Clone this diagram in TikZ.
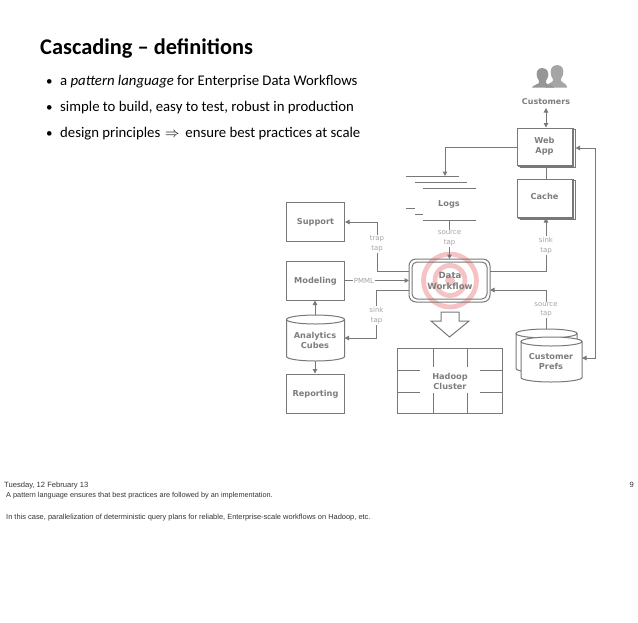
\documentclass[tikz,border=0pt]{standalone}
\usepackage{fontspec}
\setmainfont{Carlito}
\newfontfamily\diagfont{DejaVu Sans}
\newfontfamily\footfont{Liberation Sans}
\usetikzlibrary{arrows.meta}
\definecolor{dgray}{RGB}{120,120,120}
\definecolor{tgray}{RGB}{125,125,125}
\definecolor{lgray}{RGB}{165,165,165}
\definecolor{ringpink}{RGB}{245,195,195}
\tikzset{
  box/.style={draw=dgray,line width=1pt,fill=white,minimum width=58pt,minimum height=39pt,inner sep=0pt,text=tgray,font=\diagfont\bfseries\fontsize{8.2}{10.4}\selectfont,align=center},
  lbl/.style={text=tgray,font=\diagfont\bfseries\fontsize{8.2}{10.4}\selectfont,align=center,inner sep=0pt},
  tap/.style={text=lgray,fill=white,font=\diagfont\fontsize{7}{9.5}\selectfont,align=center,inner sep=1pt},
  con/.style={draw=dgray,line width=1pt},
  arr/.style={con,-{Triangle[length=4.5pt,width=4.5pt]}},
  darr/.style={con,{Triangle[length=4.5pt,width=4.5pt]}-{Triangle[length=4.5pt,width=4.5pt]}},
  bullettext/.style={anchor=base west,inner sep=0pt,font=\fontsize{14.75}{18}\selectfont},
  foot/.style={anchor=base west,inner sep=0pt,text=black!80}
}
\newcommand{\cyl}[4]{% x1,x2,ytop,ybottom
  \fill[white] (#1,#3+4.5) -- (#1,#4-4.5) arc[start angle=180,end angle=0,x radius={(#2-#1)/2},y radius=4.5] -- (#2,#3+4.5) arc[start angle=0,end angle=-180,x radius={(#2-#1)/2},y radius=4.5] -- cycle;
  \draw[dgray,line width=1pt] (#1,#3+4.5) -- (#1,#4-4.5) arc[start angle=180,end angle=0,x radius={(#2-#1)/2},y radius=4.5] -- (#2,#3+4.5);
  \draw[dgray,line width=1pt] ({(#1+#2)/2},#3+4.5) ellipse[x radius={(#2-#1)/2},y radius=4.5];
}
\begin{document}
\begin{tikzpicture}[x=1pt,y=-1pt]
\useasboundingbox (0,0) rectangle (638,622);
% heading
\node[anchor=base west,inner sep=0pt,font=\bfseries\fontsize{22.4}{26}\selectfont] (title) at (40,54) {Cascading – definitions};
\foreach \n/\y in {a/85,b/111,c/137}{\node[anchor=base west,inner sep=0pt,font=\fontsize{13}{16}\selectfont] (bul\n) at (46,\y) {•};}
\node[bullettext] (l1) at (60,85) {a \textit{pattern language} for Enterprise Data Workflows};
\node[bullettext] (l2) at (60,111) {simple to build, easy to test, robust in production};
\node[bullettext] (l3) at (60,137) {design principles\kern1.5pt{} $\Rightarrow$\kern2.5pt{} ensure best practices at scale};
% target
\draw[ringpink,line width=4.8pt] (450,280.5) circle[radius=26.5];
\draw[ringpink,line width=4.8pt] (450,280.5) circle[radius=15];
\fill[ringpink] (450,280.5) circle[radius=5];
% workflow
\draw[dgray,line width=1pt,rounded corners=7pt] (409,259) rectangle (490,302);
\draw[dgray,line width=1pt,rounded corners=5pt] (412,262) rectangle (487,299);
\node[lbl,font=\diagfont\bfseries\fontsize{8.6}{10.4}\selectfont] (wf) at (450,281) {Data\\Workflow};
\coordinate (wfN) at (449.5,259);
\coordinate (wfTL) at (409,271);
\coordinate (wfML) at (409,280.5);
\coordinate (wfBL) at (409,290);
\coordinate (wfTR) at (490,271);
\coordinate (wfBR) at (490,290);
% left column
\node[box] (support) at (315.5,221.5) {\raisebox{-3.4pt}[0pt][0pt]{Support}};
\node[box] (modeling) at (315.5,280.5) {\raisebox{-3.4pt}[0pt][0pt]{Modeling}};
\node[box] (reporting) at (315.5,393.5) {\raisebox{-3.4pt}[0pt][0pt]{Reporting}};
\cyl{286.5}{344.5}{315}{361}
\node[lbl] (cubes) at (315,340.5) {Analytics\\Cubes};
\coordinate (cubesT) at (315,315);
\coordinate (cubesB) at (315,361);
\coordinate (cubesR) at (344.5,338);
\draw[arr] (cubesT) -- (modeling.south -| cubesT);
\draw[arr] (cubesB) -- (reporting.north -| cubesB);
% hadoop
\draw[dgray,line width=1pt] (397,348) rectangle (502,413);
\foreach \x in {433,467}{\draw[con] (\x,348) -- (\x,367) (\x,393) -- (\x,413);}
\foreach \y in {370,392}{\draw[con] (397,\y) -- (420,\y) (480,\y) -- (502,\y);}
\node[lbl] (hadoop) at (450,381.5) {Hadoop\\Cluster};
\draw[dgray,line width=1pt] (441,312) -- (459,312) -- (459,321) -- (469,321) -- (449.5,337) -- (431,321) -- (441,321) -- cycle;
% logs
\draw[con] (406,176) -- (459,176) (415,182) -- (467,182) (423,188) -- (476,188)
  (406,208) -- (415,208) (415,214) -- (423,214) (423,220) -- (476,220);
\node[lbl] (logs) at (449,204.5) {Logs};
\coordinate (logsT) at (445,176);
\coordinate (logsB) at (449.5,220);
% stacked boxes
\foreach \a/\b/\nm in {128/165/w,179/217/c}{
  \draw[dgray,line width=1pt,fill=white] (520,\a+1) rectangle (575,\b+2);
  \draw[dgray,line width=1pt,fill=white] (518.5,\a+.5) rectangle (573.5,\b+1);
}
\node[box,minimum width=55pt,minimum height=37pt] (web) at (544.5,146.5) {Web\\App};
\node[box,minimum width=55pt,minimum height=38pt] (cache) at (544.5,198) {\raisebox{-1.4pt}[0pt][0pt]{Cache}};
% prefs
\cyl{516}{577}{329}{373}
\cyl{521}{582}{337}{382}
\node[lbl] (prefs) at (551,361.5) {Customer\\Prefs};
\coordinate (prefsT) at (546,329);
\coordinate (prefsR) at (582,358);
% customers
\definecolor{iconback}{RGB}{165,165,165}
\definecolor{iconfront}{RGB}{150,150,150}
\fill[iconback] (557,65) .. controls (551,65) and (550,71) .. (551,75) .. controls (552,79) and (554,79) .. (553,81) .. controls (551,83) and (547,84) .. (545,87.5) -- (567,87.5) .. controls (567,84) and (563,83) .. (561,81) .. controls (560,79) and (562,78) .. (563,75) .. controls (564,70) and (563,65) .. (557,65) -- cycle;
\fill[iconfront] (542,68) .. controls (537,68) and (536,73) .. (537,77) .. controls (538,80) and (540,81) .. (539,83) .. controls (537,85) and (533,85) .. (532,87.5) -- (554,87.5) .. controls (553,85) and (548,85) .. (546,83) .. controls (545,81) and (547,80) .. (548,77) .. controls (549,73) and (548,68) .. (542,68) -- cycle;
\node[lbl,font=\diagfont\bfseries\fontsize{8}{10}\selectfont] (cust) at (546,101.5) {Customers};
% connectors
\coordinate (cs) at (546,108);
\draw[darr] (cs) -- (web.north -| cs);
\draw[con] (web.south -| cs) -- (cache.north -| cs);
\coordinate (wl) at (web.west |- 0,147);
\draw[arr] (wl) -- (445,147) -- (logsT);
\node[tap] (t1) at (449.5,238.5) {source\\tap};
\draw[con] (logsB) -- (t1.north);
\draw[arr] (t1.south) -- (wfN);
\draw[con] (wfTL) -- (377,271) -- (377,222);
\draw[arr] (377,222) -- (support.east |- 0,222);
\node[tap] (t2) at (377,244) {trap\\tap};
\draw[arr] (modeling.east) -- (wfML);
\node[tap] (t3) at (364,280.5) {PMML};
\draw[arr] (wfBL) -- (376.5,290) -- (376.5,338) -- (cubesR);
\node[tap] (t4) at (376.5,315.5) {sink\\tap};
\draw[arr] (wfTR) -- (546,271) -- (546,218);
\node[tap] (t5) at (546,245.5) {sink\\tap};
\draw[arr] (prefsT) -- (546,290) -- (wfBR);
\node[tap] (t6) at (546,310) {source\\tap};
\draw[darr] (prefsR) -- (595,358) -- (595,148) -- (575.5,148);
% footer
\node[foot,font=\footfont\fontsize{7.6}{9}\selectfont] (date) at (4,487) {Tuesday, 12 February 13};
\node[foot,anchor=base east,font=\footfont\fontsize{7.6}{9}\selectfont] (page) at (634,487) {9};
\node[foot,font=\footfont\fontsize{7.32}{9}\selectfont] (n1) at (6,497.5) {A pattern language ensures that best practices are followed by an implementation.};
\node[foot,font=\footfont\fontsize{7.45}{9}\selectfont] (n2) at (6,519) {In this case, parallelization of deterministic query plans for reliable, Enterprise-scale workflows on Hadoop, etc.};
\end{tikzpicture}
\end{document}
